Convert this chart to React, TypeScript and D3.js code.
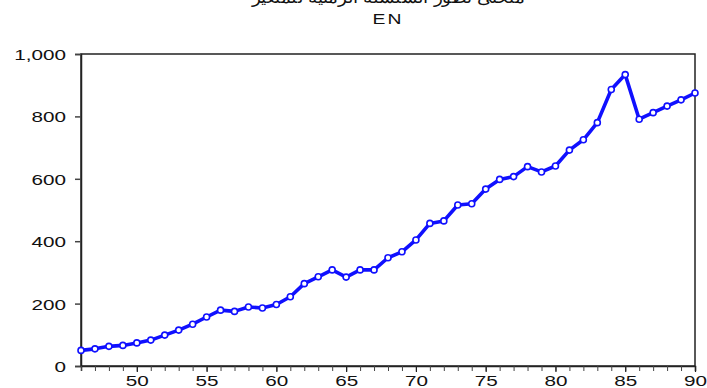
import React, { useRef, useEffect } from "react";
import * as d3 from "d3";

// years (two-digit, as on the axis) and the EN series
const years = [
  46, 47, 48, 49, 50, 51, 52, 53, 54, 55, 56, 57, 58, 59, 60, 61, 62, 63, 64, 65, 66, 67, 68,
  69, 70, 71, 72, 73, 74, 75, 76, 77, 78, 79, 80, 81, 82, 83, 84, 85, 86, 87, 88, 89, 90,
];
const enValues = [
  50, 55, 63, 66, 74, 83, 99, 115, 134, 157, 179, 175, 189, 186, 197, 222, 264, 286, 308, 285,
  308, 308, 347, 366, 404, 457, 465, 516, 520, 567, 598, 607, 639, 622, 641, 692, 725, 780, 886,
  934, 791, 812, 833, 853, 875,
];
const yTicks = [0, 200, 400, 600, 800, 1000];
const xTicks = [50, 55, 60, 65, 70, 75, 80, 85, 90];
const titleAr = "منحنى تطور السلسلة الزمنية للمتغير";
const titleEn = "EN";

const App = () => {
  const svgRef = useRef<SVGSVGElement>(null);
  const width = 707;
  const height = 388;

  useEffect(() => {
    const svg = d3.select(svgRef.current);
    svg.selectAll("*").remove();

    const margin = { top: 54, right: 12, bottom: 22, left: 81 };
    const innerW = width - margin.left - margin.right;
    const innerH = height - margin.top - margin.bottom;
    const font = "'Liberation Sans', Arial, sans-serif";
    const stretch = 1.38; // labels are drawn wide, like the original

    const chart = svg.append("g").attr("transform", `translate(${margin.left},${margin.top})`);

    const x = d3.scaleLinear().domain([46, 90]).range([0, innerW]);
    const y = d3.scaleLinear().domain([0, 1000]).range([innerH, 0]);

    // titles
    const cx = margin.left + innerW / 2;
    svg
      .append("text")
      .attr("transform", `translate(${cx},3) scale(1.15,1)`)
      .attr("text-anchor", "middle")
      .attr("font-family", font)
      .attr("font-size", 16)
      .attr("fill", "#111")
      .text(titleAr);
    svg
      .append("text")
      .attr("transform", `translate(${cx},24) scale(${stretch},1)`)
      .attr("text-anchor", "middle")
      .attr("font-family", font)
      .attr("font-size", 14)
      .attr("letter-spacing", 1.5)
      .attr("fill", "#111")
      .text(titleEn);

    // frame
    chart
      .append("rect")
      .attr("x", 0)
      .attr("y", 0)
      .attr("width", innerW)
      .attr("height", innerH)
      .attr("fill", "none")
      .attr("stroke", "#222")
      .attr("stroke-width", 1.5);

    // y axis
    const yAxis = chart
      .append("g")
      .call(d3.axisLeft(y).tickValues(yTicks).tickFormat(d3.format(",")).tickSize(6));
    yAxis.select(".domain").attr("stroke", "#222").attr("stroke-width", 1.5);
    yAxis.selectAll(".tick line").attr("stroke", "#444").attr("stroke-width", 1.5);
    yAxis
      .selectAll(".tick text")
      .attr("x", -15 / stretch)
      .attr("transform", `scale(${stretch},1)`)
      .attr("font-family", font)
      .attr("font-size", 15)
      .attr("fill", "#111")
      .attr("dy", "0.36em");

    // x axis: minor yearly ticks + labelled major ticks
    const xAxisMinor = chart
      .append("g")
      .attr("transform", `translate(0,${innerH})`)
      .call(d3.axisBottom(x).tickValues(years).tickSize(5).tickFormat(() => ""));
    xAxisMinor.select(".domain").attr("stroke", "#222").attr("stroke-width", 1.5);
    xAxisMinor.selectAll(".tick line").attr("stroke", "#444");

    const xAxis = chart
      .append("g")
      .attr("transform", `translate(0,${innerH})`)
      .call(d3.axisBottom(x).tickValues(xTicks).tickSize(6).tickPadding(3));
    xAxis.select(".domain").remove();
    xAxis.selectAll(".tick line").attr("stroke", "#222").attr("stroke-width", 1.2);
    xAxis
      .selectAll(".tick text")
      .attr("transform", `scale(${stretch},1)`)
      .attr("font-family", font)
      .attr("font-size", 15)
      .attr("fill", "#111");

    // series
    const pts = years.map((yr, i) => [yr, enValues[i]] as [number, number]);
    chart
      .append("path")
      .datum(pts)
      .attr("fill", "none")
      .attr("stroke", "#1010ff")
      .attr("stroke-width", 3.6)
      .attr("stroke-linejoin", "round")
      .attr(
        "d",
        d3
          .line<[number, number]>()
          .x((d) => x(d[0]))
          .y((d) => y(d[1]))
      );

    chart
      .selectAll("circle.pt")
      .data(pts)
      .join("circle")
      .attr("class", "pt")
      .attr("cx", (d) => x(d[0]))
      .attr("cy", (d) => y(d[1]))
      .attr("r", 3)
      .attr("fill", "#fff")
      .attr("stroke", "#1010ff")
      .attr("stroke-width", 1.6);
  }, []);

  return (
    <svg
      ref={svgRef}
      width={width}
      height={height}
      style={{ position: "absolute", left: 0, top: 0, background: "#fff" }}
    ></svg>
  );
};

export default App;
